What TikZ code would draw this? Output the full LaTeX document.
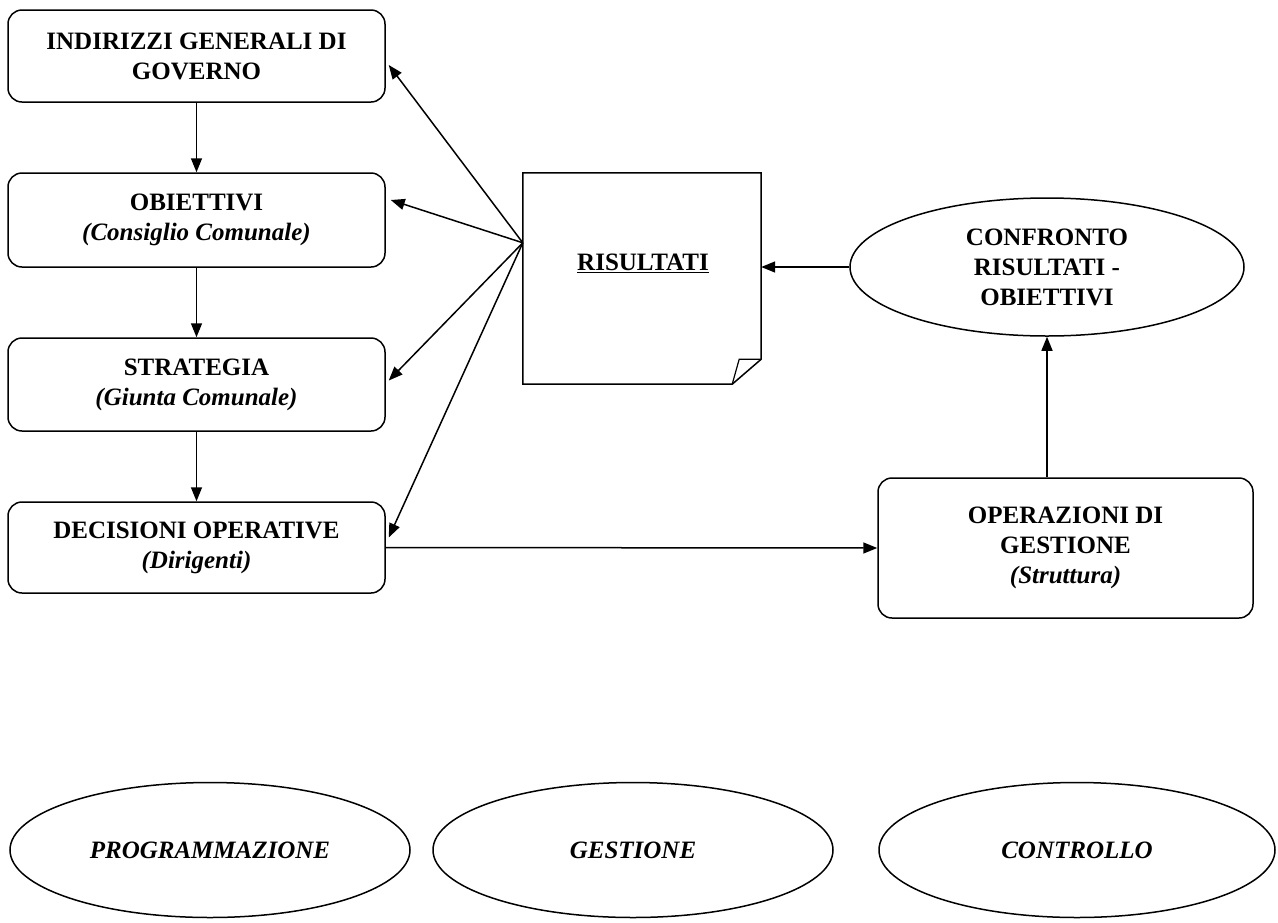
\documentclass[tikz,border=0pt]{standalone}
\usepackage{fontspec}
\setmainfont{Liberation Serif}
\usetikzlibrary{arrows.meta,shapes.geometric,calc}
\begin{document}
\begin{tikzpicture}[x=1pt,y=-1pt,
  txt/.style={align=center,font=\fontsize{25}{30}\selectfont\bfseries},
  box/.style={txt,draw,line width=1.5pt,rounded corners=14pt,minimum width=377pt,minimum height=92pt,inner sep=0pt},
  oval/.style={txt,draw,ellipse,line width=1.5pt,inner sep=0pt},
  arr/.style={line width=1.5pt,-{Triangle[length=14pt,width=11pt]}}]
\useasboundingbox (0,0) rectangle (1278,922);

% left column
\node[box] (b1) at (196.5,56) {INDIRIZZI GENERALI DI\\GOVERNO};
\node[box,minimum height=94pt] (b2) at (196.5,220) {OBIETTIVI\\\itshape (Consiglio Comunale)};
\node[box,minimum height=93pt] (b3) at (196.5,384.5) {STRATEGIA\\\itshape (Giunta Comunale)};
\node[box,minimum height=91pt] (b4) at (196.5,547.5) {DECISIONI OPERATIVE\\\itshape (Dirigenti)};

\draw[arr] (b1.south) -- (b2.north);
\draw[arr] (b2.south) -- (b3.north);
\draw[arr] (b3.south) -- (b4.north);

% note RISULTATI
\node[minimum width=238pt,minimum height=211pt,inner sep=0pt] (note) at (642,278.5) {};
\draw[line width=1.5pt] (note.north west) -- (note.north east) -- ($(note.south east)+(0,-25)$)
  -- ($(note.south east)+(-29,0)$) -- (note.south west) -- cycle;
\draw[line width=1.2pt] ($(note.south east)+(-29,0)$) -- ($(note.south east)+(-22,-25)$) -- ($(note.south east)+(0,-25)$);
\node[txt] (nt) at (643,263) {\underline{RISULTATI}};
\coordinate (fan) at ($(note.north west)+(0,70)$);

\draw[arr] (fan) -- ($(b1.east)+(3,9)$);
\draw[arr] (fan) -- ($(b2.east)+(5,-20)$);
\draw[arr] (fan) -- ($(b3.east)+(3,-4)$);
\draw[arr] (fan) -- ($(b4.east)+(3,-10)$);

% right side
\node[oval,minimum width=394pt,minimum height=138pt] (conf) at (1047,267) {CONFRONTO\\RISULTATI -\\OBIETTIVI};
\node[box,minimum width=375pt,minimum height=140pt] (oper) at (1065.5,548) {OPERAZIONI DI\\GESTIONE\\\itshape (Struttura)};

\draw[arr] (conf.west) -- (conf.west -| note.east);
\draw[arr] (oper.north -| conf.south) -- (conf.south);
\draw[arr] (b4.east) -- (oper.west);

% bottom ellipses
\node[oval,minimum width=400pt,minimum height=135pt] (prog) at (210,850) {\itshape PROGRAMMAZIONE};
\node[oval,minimum width=400pt,minimum height=135pt] (gest) at (633,850) {\itshape GESTIONE};
\node[oval,minimum width=396pt,minimum height=135pt] (ctrl) at (1077,850) {\itshape CONTROLLO};
\end{tikzpicture}
\end{document}
